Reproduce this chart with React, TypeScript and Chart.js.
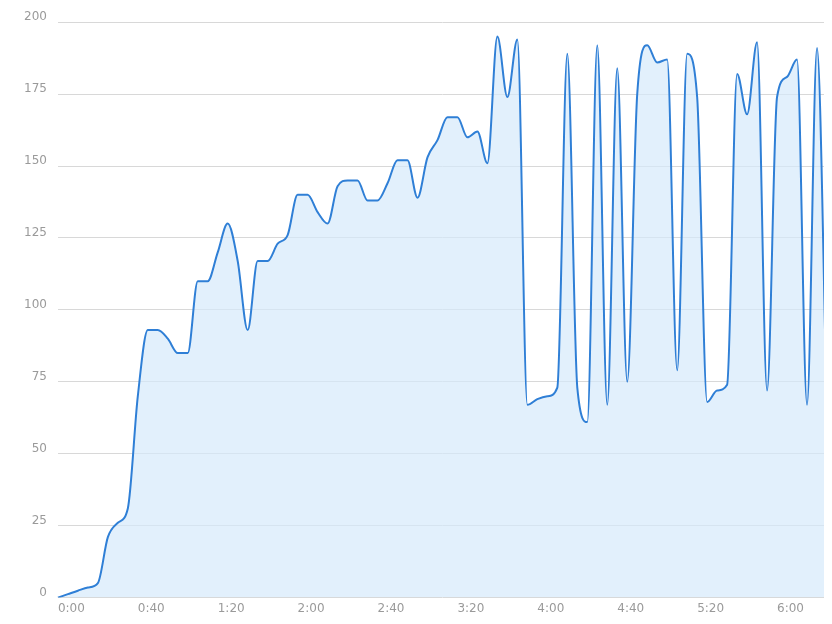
import React, { useEffect, useRef } from "react";
import { Chart, registerables } from "chart.js";

Chart.register(...registerables);

const timeLabels: string[] = [
  "0:00", "0:05", "0:10", "0:15", "0:20", "0:25", "0:30", "0:35",
  "0:40", "0:45", "0:50", "0:55", "1:00", "1:05", "1:10", "1:15",
  "1:20", "1:25", "1:30", "1:35", "1:40", "1:45", "1:50", "1:55",
  "2:00", "2:05", "2:10", "2:15", "2:20", "2:25", "2:30", "2:35",
  "2:40", "2:45", "2:50", "2:55", "3:00", "3:05", "3:10", "3:15",
  "3:20", "3:25", "3:30", "3:35", "3:40", "3:45", "3:50", "3:55",
  "4:00", "4:05", "4:10", "4:15", "4:20", "4:25", "4:30", "4:35",
  "4:40", "4:45", "4:50", "4:55", "5:00", "5:05", "5:10", "5:15",
  "5:20", "5:25", "5:30", "5:35", "5:40", "5:45", "5:50", "5:55",
  "6:00", "6:05", "6:10", "6:15", "6:20", "6:25",
];

const values: number[] = [
  0, 1.2, 2.4, 3.5, 5, 21, 26, 31,
  70, 93, 93, 90, 85, 85, 110, 110,
  120, 130, 117, 93, 117, 117, 123, 126,
  140, 140, 134, 130, 143, 145, 145, 138,
  138, 144, 152, 152, 139, 153, 159, 167,
  167, 160, 162, 151, 195, 174, 194, 67,
  69, 70, 73, 189, 73, 61, 192, 67,
  184, 75, 175, 192, 186, 187, 79, 189,
  174, 68, 72, 74, 182, 168, 193, 72,
  174, 181, 187, 67, 191, 63,
];

const shownXTicks: string[] = ["0:00", "0:40", "1:20", "2:00", "2:40", "3:20", "4:00", "4:40", "5:20", "6:00"];
const yTicks: number[] = [0, 25, 50, 75, 100, 125, 150, 175, 200];

export default function App() {
  const ref = useRef<HTMLCanvasElement | null>(null);

  useEffect(() => {
    if (!ref.current) return;
    const chart = new Chart(ref.current, {
      type: "line",
      data: {
        labels: timeLabels,
        datasets: [
          {
            data: values,
            borderColor: "#2f7fd6",
            backgroundColor: "rgba(214, 233, 251, 0.7)",
            borderWidth: 2,
            fill: "origin",
            pointRadius: 0,
            cubicInterpolationMode: "monotone",
          },
        ],
      },
      options: {
        animation: false,
        responsive: true,
        maintainAspectRatio: false,
        layout: { padding: { top: 0, left: 5, right: 0, bottom: 4 } },
        plugins: { legend: { display: false }, tooltip: { enabled: false } },
        scales: {
          x: {
            type: "category",
            grid: { display: false, drawTicks: false },
            border: { display: false },
            ticks: {
              autoSkip: false,
              maxRotation: 0,
              align: "start",
              padding: 4,
              color: "#9a9a9a",
              font: { family: "DejaVu Sans", size: 12 },
              callback: function (this: any, value: any) {
                const lbl = timeLabels[value as number];
                return shownXTicks.includes(lbl) ? lbl : null;
              },
            },
          },
          y: {
            min: yTicks[0],
            max: yTicks[yTicks.length - 1],
            afterBuildTicks: (axis: any) => {
              axis.ticks = yTicks.map((v) => ({ value: v }));
            },
            grid: { color: "#d8d8d8", drawTicks: false, lineWidth: 1 },
            border: { display: false },
            ticks: {
              padding: 11,
              labelOffset: -5,
              color: "#9a9a9a",
              font: { family: "DejaVu Sans", size: 12 },
            },
          },
        },
      },
    });
    return () => chart.destroy();
  }, []);

  return (
    <div style={{ width: 819, height: 620, marginTop: -4 }}>
      <canvas ref={ref} />
    </div>
  );
}
